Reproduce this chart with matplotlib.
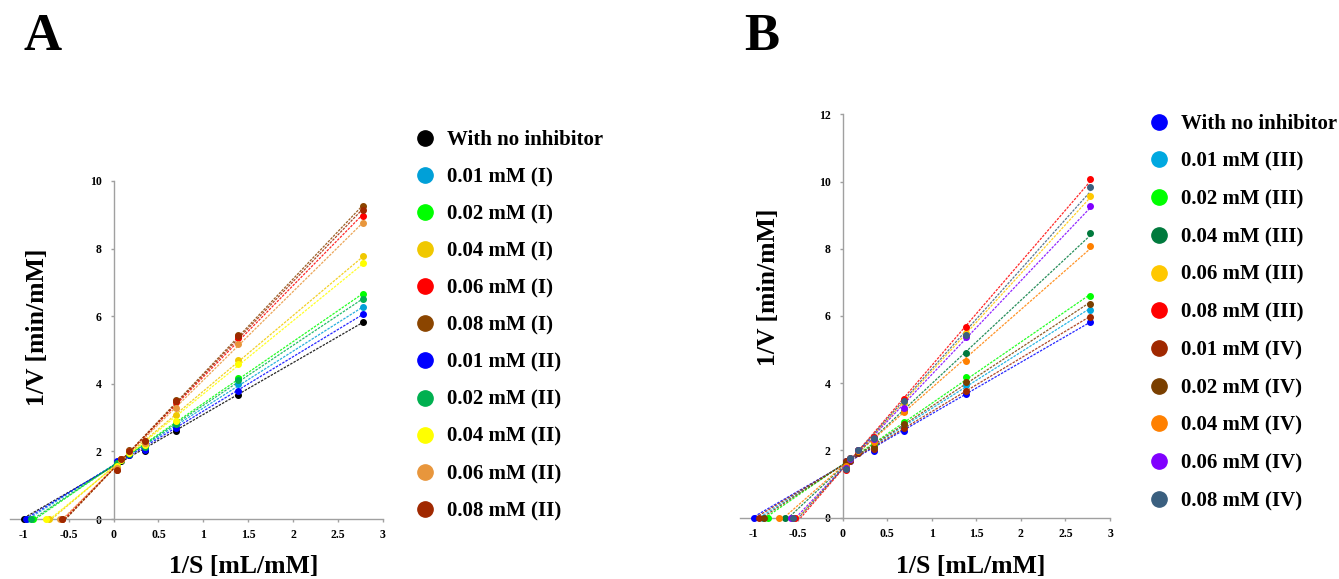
import numpy as np
import matplotlib
matplotlib.use('Agg')
import matplotlib.pyplot as plt
from matplotlib.lines import Line2D

plt.rcParams['font.family'] = ['Liberation Serif', 'DejaVu Serif']
plt.rcParams['font.weight'] = 'bold'

# 1/S values of the measured points [mL/mM]
inv_s = [0.043, 0.087, 0.174, 0.347, 0.694, 1.389, 2.778]

# panel A
labels_a = ['With no inhibitor', '0.01 mM (I)', '0.02 mM (I)', '0.04 mM (I)', '0.06 mM (I)',
            '0.08 mM (I)', '0.01 mM (II)', '0.02 mM (II)', '0.04 mM (II)', '0.06 mM (II)',
            '0.08 mM (II)']
colors_a = ['#000000', '#00a0d8', '#00ff00', '#f0c800', '#ff0000', '#8b4500',
            '#0000ff', '#00b050', '#ffff00', '#e8963c', '#a02800']
inv_v_a = [
    [1.70, 1.72, 1.88, 2.00, 2.60, 3.68, 5.82],
    [1.68, 1.75, 1.92, 2.10, 2.73, 3.98, 6.28],
    [1.62, 1.75, 1.95, 2.15, 2.85, 4.18, 6.67],
    [1.55, 1.78, 1.98, 2.22, 3.08, 4.69, 7.77],
    [1.48, 1.77, 2.02, 2.28, 3.45, 5.36, 8.97],
    [1.45, 1.78, 2.03, 2.30, 3.52, 5.45, 9.27],
    [1.72, 1.74, 1.90, 2.05, 2.68, 3.80, 6.07],
    [1.65, 1.74, 1.93, 2.12, 2.80, 4.10, 6.52],
    [1.58, 1.76, 1.96, 2.20, 2.90, 4.60, 7.58],
    [1.50, 1.77, 2.00, 2.26, 3.28, 5.19, 8.77],
    [1.45, 1.77, 2.02, 2.30, 3.50, 5.40, 9.15],
]
x_int_a = [-1.00, -0.97, -0.90, -0.72, -0.58, -0.57, -0.98, -0.92, -0.75, -0.60, -0.57]

# panel B
labels_b = ['With no inhibitor', '0.01 mM (III)', '0.02 mM (III)', '0.04 mM (III)',
            '0.06 mM (III)', '0.08 mM (III)', '0.01 mM (IV)', '0.02 mM (IV)', '0.04 mM (IV)',
            '0.06 mM (IV)', '0.08 mM (IV)']
colors_b = ['#0000ff', '#00a8e0', '#00ff00', '#007a3d', '#ffc800', '#ff0000',
            '#a02800', '#7a3f00', '#ff8000', '#8000ff', '#3a5f7f']
inv_v_b = [
    [1.70, 1.68, 1.92, 1.98, 2.59, 3.68, 5.82],
    [1.66, 1.72, 1.95, 2.12, 2.73, 3.95, 6.18],
    [1.62, 1.74, 1.97, 2.18, 2.86, 4.18, 6.59],
    [1.52, 1.75, 2.00, 2.30, 3.17, 4.89, 8.47],
    [1.45, 1.76, 2.02, 2.35, 3.40, 5.49, 9.58],
    [1.42, 1.77, 2.02, 2.40, 3.53, 5.68, 10.09],
    [1.68, 1.70, 1.93, 2.05, 2.66, 3.78, 5.97],
    [1.64, 1.73, 1.96, 2.10, 2.79, 4.05, 6.37],
    [1.55, 1.74, 1.99, 2.25, 3.15, 4.67, 8.09],
    [1.47, 1.76, 2.01, 2.33, 3.27, 5.37, 9.28],
    [1.44, 1.77, 2.02, 2.38, 3.47, 5.44, 9.83],
]
x_int_b = [-0.99, -0.89, -0.84, -0.65, -0.55, -0.53, -0.94, -0.88, -0.71, -0.58, -0.56]

xticks = [-1, -0.5, 0, 0.5, 1, 1.5, 2, 2.5, 3]
xticklabels = ['-1', '-0.5', '0', '0.5', '1', '1.5', '2', '2.5', '3']

fig = plt.figure(figsize=(13.39, 5.79), dpi=100)
ax_a = fig.add_axes([0.0078, 0.1036, 0.278, 0.5838])
ax_b = fig.add_axes([0.5527, 0.1059, 0.2763, 0.6967])


def draw_panel(ax, yvals, xints, colors, ymax):
    for y, xi, c in zip(yvals, xints, colors):
        xs = np.array([xi] + inv_s)
        ys = np.array([0.0] + y)
        m, b = np.polyfit(xs, ys, 1)
        xl = np.array([xs.min(), xs.max()])
        ax.plot(xl, m * xl + b, ls=(0, (2, 1)), lw=0.9, color=c, alpha=0.85, zorder=2)
        ax.plot(xs, ys, 'o', ms=4, color=c, zorder=3, clip_on=False)
    ax.set_xlim(-1.15, 3.0)
    ax.set_ylim(0, ymax)
    ax.spines['left'].set_position(('data', 0))
    ax.spines['bottom'].set_position(('data', 0))
    ax.spines['top'].set_visible(False)
    ax.spines['right'].set_visible(False)
    for s in ['left', 'bottom']:
        ax.spines[s].set_color('#a0a0a0')
        ax.spines[s].set_linewidth(1.0)
    ax.set_xticks(xticks)
    ax.set_xticklabels(xticklabels)
    ax.set_yticks(np.arange(0, ymax + 1, 2))
    ax.tick_params(colors='#a0a0a0', labelcolor='black', labelsize=8.5, length=2.5, width=1)
    ax.tick_params(axis='x', pad=5)
    ax.tick_params(axis='y', pad=6)
    for t in ax.get_xticklabels() + ax.get_yticklabels():
        t.set_fontweight('bold')
    ax.patch.set_visible(False)


draw_panel(ax_a, inv_v_a, x_int_a, colors_a, 10)
draw_panel(ax_b, inv_v_b, x_int_b, colors_b, 12)

lab_kw = dict(fontsize=18.5, fontweight='bold')
fig.text(38 / 1339, 1 - 327 / 579, '1/V [min/mM]', rotation=90, ha='center', va='center', **lab_kw)
fig.text(244 / 1339, 1 - 567 / 579, '1/S [mL/mM]', ha='center', va='center', **lab_kw)
fig.text(768 / 1339, 1 - 287 / 579, '1/V [min/mM]', rotation=90, ha='center', va='center', **lab_kw)
fig.text(971 / 1339, 1 - 567 / 579, '1/S [mL/mM]', ha='center', va='center', **lab_kw)

fig.text(43 / 1339, 1 - 37 / 579, 'A', ha='center', va='center', fontsize=38, fontweight='bold')
fig.text(762 / 1339, 1 - 37 / 579, 'B', ha='center', va='center', fontsize=38, fontweight='bold')


def add_legend(labels, colors, anchor, spacing):
    handles = [Line2D([], [], ls='none', marker='o', ms=11, color=c) for c in colors]
    leg = fig.legend(handles, labels, loc='upper left', bbox_to_anchor=anchor,
                     frameon=False, handlelength=1.0, handletextpad=0.55,
                     labelspacing=spacing, borderpad=0, borderaxespad=0,
                     prop={'weight': 'bold', 'size': 15})
    return leg


add_legend(labels_a, colors_a, (0.3097, 0.775), 0.82)
add_legend(labels_b, colors_b, (0.8578, 0.803), 0.85)

fig.savefig('out.png', dpi=100)
